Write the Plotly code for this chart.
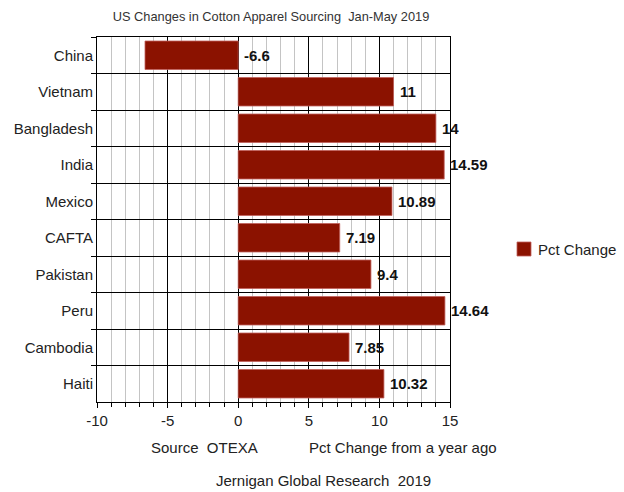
import plotly.graph_objects as go

countries = ["China", "Vietnam", "Bangladesh", "India", "Mexico",
             "CAFTA", "Pakistan", "Peru", "Cambodia", "Haiti"]
pct_change = [-6.6, 11, 14, 14.59, 10.89, 7.19, 9.4, 14.64, 7.85, 10.32]
value_labels = ["-6.6", "11", "14", "14.59", "10.89", "7.19", "9.4", "14.64", "7.85", "10.32"]
x_ticks = [-10, -5, 0, 5, 10, 15]
x_tick_text = ["-10", "-5", "0", "5", "10", "15"]

BAR = "#8b1200"
FONT = "Liberation Sans, Arial, sans-serif"
TXT = "#222"

# plot box in pixels: x 97..450, y 37..402
L, R, T, B = 97, 450, 37, 402
W, H = 624, 492


def px_x(px):
    return (px - L) / (R - L)


def px_y(py):
    return (B - py) / (B - T)


fig = go.Figure()
fig.add_trace(go.Bar(
    y=countries, x=pct_change, orientation="h", name="Pct Change",
    marker=dict(color=BAR, line=dict(color="#c0605a", width=0.8)),
    width=0.78, showlegend=False,
))

# value labels just right of each bar's end (or of zero for negative bars)
for c, v, t in zip(countries, pct_change, value_labels):
    fig.add_annotation(
        x=max(v, 0), y=c, xref="x", yref="y", text="<b>%s</b>" % t,
        xanchor="left", yanchor="middle", xshift=4, showarrow=False,
        font=dict(family=FONT, size=15, color="#111"),
    )

fig.update_layout(
    width=W, height=H,
    margin=dict(l=L, r=W - R, t=T, b=H - B, autoexpand=False),
    paper_bgcolor="white", plot_bgcolor="white",
    font=dict(family=FONT, size=15, color=TXT),
    showlegend=False,
    title=dict(text="US Changes in Cotton Apparel Sourcing  Jan-May 2019",
               x=px_x(271) * (R - L) / W + L / W, xanchor="center",
               y=1 - 17 / H, yanchor="middle",
               font=dict(size=12.8, color="#333")),
    xaxis=dict(
        range=[-10, 15], tickvals=x_ticks, ticktext=x_tick_text,
        showgrid=True, gridcolor="#000", gridwidth=1,
        minor=dict(dtick=1, tick0=0, showgrid=True, gridcolor="#c4c4c4",
                   gridwidth=1, ticks="outside", ticklen=4, tickcolor="#000"),
        zeroline=True, zerolinecolor="#000", zerolinewidth=1,
        showline=True, linecolor="#000", linewidth=1, mirror=True,
        ticks="outside", ticklen=5, tickcolor="#000",
        tickfont=dict(size=15, color=TXT),
    ),
    yaxis=dict(
        categoryorder="array", categoryarray=countries, autorange="reversed",
        tickson="boundaries", ticks="outside", ticklen=5, tickcolor="#000",
        showgrid=True, gridcolor="#000", gridwidth=1,
        showline=True, linecolor="#000", linewidth=1, mirror=True,
        tickfont=dict(size=15, color=TXT),
    ),
)

# legend swatch and label
fig.add_shape(type="rect", xref="paper", yref="paper",
              x0=px_x(517), x1=px_x(531), y0=px_y(256), y1=px_y(242),
              fillcolor=BAR, line=dict(color="#c0605a", width=0.8))
fig.add_annotation(text="Pct Change", xref="paper", yref="paper",
                   x=px_x(536), y=px_y(249), xanchor="left", yanchor="middle",
                   showarrow=False, font=dict(size=15, color=TXT))

# footer notes
fig.add_annotation(text="Source  OTEXA", xref="paper", yref="paper",
                   x=px_x(204), y=px_y(447), xanchor="center", yanchor="middle",
                   showarrow=False, font=dict(size=15, color=TXT))
fig.add_annotation(text="Pct Change from a year ago", xref="paper", yref="paper",
                   x=px_x(403), y=px_y(447), xanchor="center", yanchor="middle",
                   showarrow=False, font=dict(size=15, color=TXT))
fig.add_annotation(text="Jernigan Global Research  2019", xref="paper", yref="paper",
                   x=px_x(323), y=px_y(481), xanchor="center", yanchor="middle",
                   showarrow=False, font=dict(size=15, color=TXT))

fig.write_html("out.html")
